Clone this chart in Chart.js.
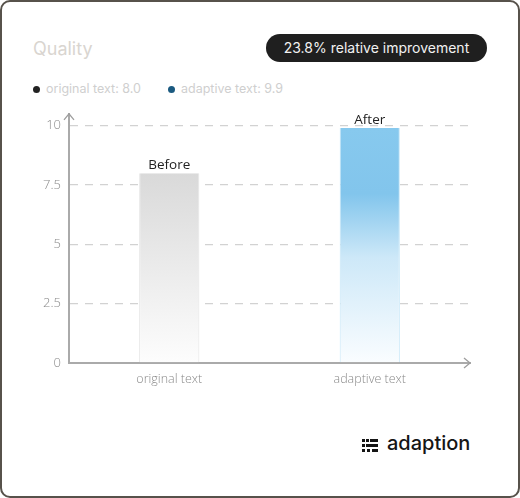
<!DOCTYPE html>
<html>
<head>
<meta charset="utf-8">
<script src="https://cdn.jsdelivr.net/npm/chart.js@4"></script>
<style>
  html, body { margin: 0; padding: 0; background: #fff; }
  .card {
    position: absolute; left: 0; top: 0; width: 516px; height: 494px;
    border: 2px solid #57524b; border-radius: 10px; background: #fff;
    font-family: Inter, "Liberation Sans", sans-serif;
  }
  .title { position: absolute; left: 31px; top: 36px; font-size: 18px; color: #d9d5d0; }
  .badge {
    position: absolute; left: 264px; top: 32px; width: 221px; height: 28px;
    border-radius: 15px; background: #1f1f1f; color: #f2f2f2;
    font-size: 14px; line-height: 28px; text-align: center;
  }
  .legend { position: absolute; top: 79px; font-size: 12.5px; color: #cfcfcf; }
  .legend .dot { display: inline-block; width: 7px; height: 7px; border-radius: 50%; margin-right: 6px; vertical-align: 0px; }
  .logo { position: absolute; left: 359px; top: 429px; font-size: 20px; color: #151515; font-weight: 500; }
  .logo canvas { vertical-align: -2px; margin-right: 8px; }
  .chart-box { position: absolute; left: 16px; top: 96px; width: 462px; height: 292px; }
</style>
</head>
<body>
<div class="card">
  <div class="title">Quality</div>
  <div class="badge">23.8% relative improvement</div>
  <div class="legend" style="left:31px"><span class="dot" style="background:#222"></span>original text: 8.0</div>
  <div class="legend" style="left:166px"><span class="dot" style="background:#1b5a80"></span>adaptive text: 9.9</div>
  <div class="chart-box"><canvas id="qualityChart"></canvas></div>
  <div class="logo"><canvas id="logoIcon" width="18" height="14"></canvas>adaption</div>
</div>
<script>
var categories = ["original text", "adaptive text"];
var scores = [8.0, 9.9];
var barLabels = ["Before", "After"];
var yTicks = [0, 2.5, 5, 7.5, 10];

// logo icon (dot grid)
var lg = document.getElementById("logoIcon").getContext("2d");
lg.fillStyle = "#151515";
[[0, 0], [4, 0], [0, 5], [0, 10], [5, 10], [10, 10]].forEach(function (p) {
  lg.fillRect(p[0] + 1, p[1] + 1, 3, 3);
});
lg.fillRect(9, 1, 8, 3);
lg.fillRect(5, 6, 12, 3);
lg.fillRect(14, 11, 3, 3);

var ctx = document.getElementById("qualityChart").getContext("2d");

function barFill(context) {
  var chart = context.chart;
  var area = chart.chartArea;
  if (!area) return "#ddd";
  var y0 = chart.scales.y.getPixelForValue(0);
  var top = chart.scales.y.getPixelForValue(context.raw);
  var g = chart.ctx.createLinearGradient(0, top, 0, y0);
  if (context.dataIndex === 0) {
    g.addColorStop(0, "#d9d9d9");
    g.addColorStop(1, "#fdfdfd");
  } else {
    g.addColorStop(0, "#87c9ee");
    g.addColorStop(0.28, "#82c5ec");
    g.addColorStop(0.55, "#cde8f8");
    g.addColorStop(1, "#fafdff");
  }
  return g;
}

// arrows + bar labels
var decorPlugin = {
  id: "decor",
  afterDraw: function (chart) {
    var c = chart.ctx;
    var a = chart.chartArea;
    c.save();
    c.strokeStyle = "#9e9e9e";
    c.lineWidth = 1.3;
    c.beginPath();
    c.moveTo(a.left - 5, a.top + 6);
    c.lineTo(a.left, a.top);
    c.lineTo(a.left + 5, a.top + 6);
    c.moveTo(a.right - 6, a.bottom - 5);
    c.lineTo(a.right, a.bottom);
    c.lineTo(a.right - 6, a.bottom + 5);
    c.stroke();
    var meta = chart.getDatasetMeta(0);
    c.fillStyle = "#222";
    c.font = "13.5px 'Open Sans', sans-serif";
    c.textAlign = "center";
    c.textBaseline = "bottom";
    meta.data.forEach(function (bar, i) {
      c.fillText(barLabels[i], bar.x, bar.y - 1);
    });
    c.restore();
  }
};

new Chart(ctx, {
  type: "bar",
  data: {
    labels: categories,
    datasets: [
      {
        data: scores,
        backgroundColor: barFill,
        borderColor: ["#e4e4e4", "#c5e6f8"],
        borderWidth: { left: 1, right: 1, top: 0, bottom: 0 },
        barPercentage: 0.3,
        categoryPercentage: 1,
      },
    ],
  },
  options: {
    responsive: true,
    maintainAspectRatio: false,
    animation: false,
    layout: { padding: { top: 13, right: 10, left: 0, bottom: 0 } },
    plugins: {
      legend: { display: false },
      tooltip: { enabled: false },
    },
    scales: {
      x: {
        afterFit: function (scale) {
          scale.height = 27;
        },
        ticks: {
          color: "#8a8a8a",
          font: { family: "'Open Sans', sans-serif", size: 12.5, weight: 300 },
          padding: 1,
        },
        grid: { display: false },
        border: { color: "#aaaaaa", width: 2 },
      },
      y: {
        min: 0,
        max: 10.5,
        afterFit: function (scale) {
          scale.width = 51;
        },
        afterBuildTicks: function (scale) {
          scale.ticks = yTicks.map(function (v) {
            return { value: v };
          });
        },
        ticks: {
          color: "#8a8a8a",
          font: { family: "'Open Sans', sans-serif", size: 13, weight: 300 },
          padding: 8,
        },
        grid: {
          drawTicks: false,
          color: function (context) {
            return context.tick && context.tick.value === 0 ? "rgba(0,0,0,0)" : "#d2d2d2";
          },
          lineWidth: 1.3,
        },
        border: { color: "#aaaaaa", width: 2, dash: [8, 7] },
      },
    },
  },
  plugins: [decorPlugin],
});
</script>
</body>
</html>
